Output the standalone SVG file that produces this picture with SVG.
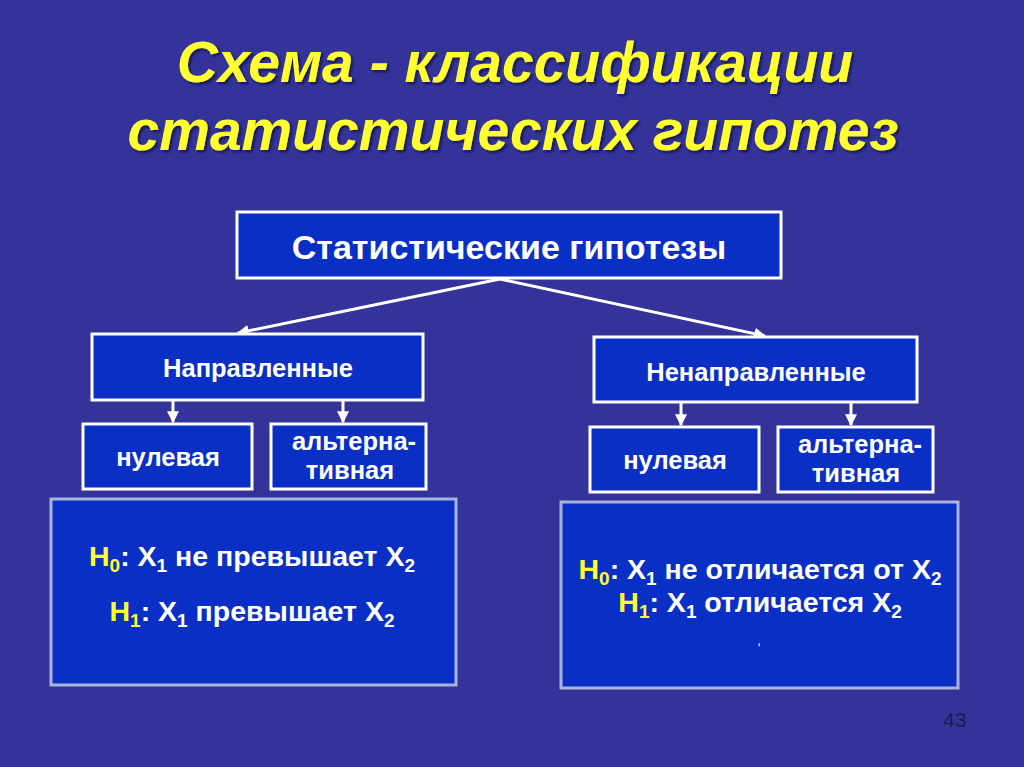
<svg xmlns="http://www.w3.org/2000/svg" width="1024" height="767" viewBox="0 0 1024 767">
<style>
.title{font-family:"Liberation Sans",Arial,sans-serif;font-weight:bold;font-style:italic;font-size:57px;fill:#ffff33;text-anchor:middle}
.box{fill:#0a2fc4;stroke:#ffffff;stroke-width:3}
.big{fill:#0a2fc4;stroke:#a8b4dc;stroke-width:3}
.t{font-family:"Liberation Sans",Arial,sans-serif;font-weight:bold;fill:#ffffff;text-anchor:middle}
.m{font-size:25.5px}
.h{font-size:28.5px}
.s{font-size:19px}
.y{fill:#ffff33}
.conn{stroke:#ffffff;stroke-width:3;fill:none;marker-end:url(#ah)}
</style>
<defs>
<marker id="ah" viewBox="0 0 10 10" refX="9" refY="5" markerWidth="4" markerHeight="4" orient="auto" markerUnits="strokeWidth">
<path d="M0,0 L10,5 L0,10 z" fill="#ffffff"/>
</marker>
<filter id="sh" x="-5%" y="-20%" width="110%" height="140%">
<feDropShadow dx="2" dy="2" stdDeviation="1" flood-color="#101040" flood-opacity="0.8"/>
</filter>
</defs>
<rect width="1024" height="767" fill="#333399"/>
<g filter="url(#sh)">
<text class="title" x="515" y="82">Схема - классификации</text>
<text class="title" x="513" y="150">статистических гипотез</text>
</g>

<g id="connectors">
<line class="conn" x1="500" y1="279" x2="238" y2="333"/>
<line class="conn" x1="500" y1="279" x2="765" y2="336"/>
<line class="conn" x1="173" y1="401" x2="173" y2="422"/>
<line class="conn" x1="343" y1="401" x2="343" y2="422"/>
<line class="conn" x1="681" y1="403" x2="681" y2="425"/>
<line class="conn" x1="851" y1="403" x2="851" y2="425"/>
</g>

<g id="root">
<rect class="box" x="237" y="212" width="544" height="66"/>
<text class="t" x="509" y="259" font-size="34">Статистические гипотезы</text>
</g>
<g id="directed">
<rect class="box" x="92" y="334" width="331" height="66"/>
<text class="t m" x="258" y="377">Направленные</text>
</g>
<g id="nondirected">
<rect class="box" x="594" y="337" width="323" height="65"/>
<text class="t m" x="756" y="381">Ненаправленные</text>
</g>
<g id="null-left">
<rect class="box" x="83" y="424" width="169" height="65"/>
<text class="t m" x="168" y="466">нулевая</text>
</g>
<g id="alt-left">
<rect class="box" x="271" y="424" width="155" height="65"/>
<text class="t m" x="354" y="450">альтерна-</text>
<text class="t m" x="350" y="479">тивная</text>
</g>
<g id="null-right">
<rect class="box" x="590" y="427" width="169" height="65"/>
<text class="t m" x="675" y="469">нулевая</text>
</g>
<g id="alt-right">
<rect class="box" x="778" y="427" width="155" height="65"/>
<text class="t m" x="860" y="453">альтерна-</text>
<text class="t m" x="856" y="482">тивная</text>
</g>
<g id="hyp-left">
<rect class="big" x="51" y="499" width="405" height="186"/>
<text class="t h" x="252" y="566"><tspan class="y">H<tspan class="s" dy="6">0</tspan></tspan><tspan dy="-6">: X</tspan><tspan class="s" dy="6">1</tspan><tspan dy="-6"> не превышает X</tspan><tspan class="s" dy="6">2</tspan></text>
<text class="t h" x="252" y="621"><tspan class="y">H<tspan class="s" dy="6">1</tspan></tspan><tspan dy="-6">: X</tspan><tspan class="s" dy="6">1</tspan><tspan dy="-6"> превышает X</tspan><tspan class="s" dy="6">2</tspan></text>
</g>
<g id="hyp-right">
<rect class="big" x="561" y="502" width="397" height="186"/>
<text class="t h" x="760" y="579"><tspan class="y">H<tspan class="s" dy="6">0</tspan></tspan><tspan dy="-6">: X</tspan><tspan class="s" dy="6">1</tspan><tspan dy="-6"> не отличается от X</tspan><tspan class="s" dy="6">2</tspan></text>
<text class="t h" x="760" y="612"><tspan class="y">H<tspan class="s" dy="6">1</tspan></tspan><tspan dy="-6">: X</tspan><tspan class="s" dy="6">1</tspan><tspan dy="-6"> отличается X</tspan><tspan class="s" dy="6">2</tspan></text>
<text class="t" x="759" y="645" font-size="9">,</text>
</g>
<text x="955" y="727" font-family="Liberation Sans,Arial,sans-serif" font-size="21" fill="#1c1c50" text-anchor="middle">43</text>
</svg>
